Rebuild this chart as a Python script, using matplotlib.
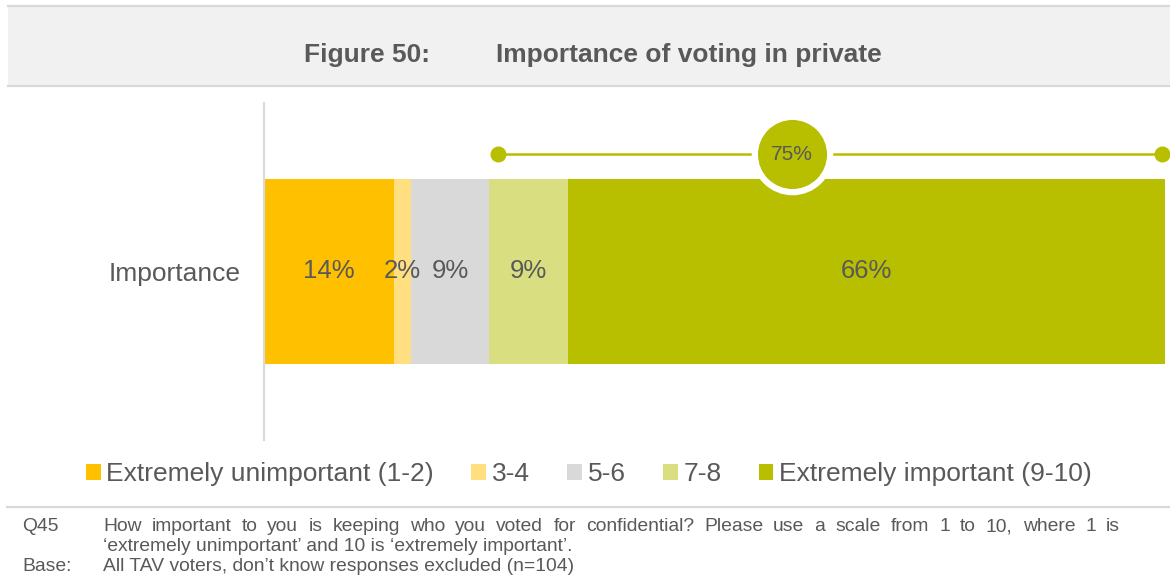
"""Stacked single bar: importance of voting in private."""

import matplotlib.pyplot as plt
from matplotlib.lines import Line2D
from matplotlib.patches import Patch, Rectangle

plt.rcParams["font.family"] = ["Liberation Sans", "DejaVu Sans"]

TEXT = "#595959"
RULE = "#D9D9D9"

# data
row_label = "Importance"
categories = ["Extremely unimportant (1-2)", "3-4", "5-6", "7-8", "Extremely important (9-10)"]
shares = [14.4, 1.9, 8.7, 8.7, 66.3]
colors = ["#FFC000", "#FFDF80", "#D9D9D9", "#D9DF80", "#B8BF00"]

title_num = "Figure 50:"
title_txt = "Importance of voting in private"
# (label, text, justified)
notes = [
    ("Q45", "How important to you is keeping who you voted for confidential? Please use a scale from 1 to 10, where 1 is", True),
    ("", "\u2018extremely unimportant\u2019 and 10 is \u2018extremely important\u2019.", False),
    ("Base:", "All TAV voters, don\u2019t know responses excluded (n=104)", False),
]

W, H = 1170, 580
fig = plt.figure(figsize=(W / 100, H / 100), dpi=100)


def fx(px):
    return px / W


def fy(py):
    return 1 - py / H


# title band
fig.patches.append(Rectangle((fx(8), fy(86)), 1 - fx(8), fy(6) - fy(86),
                             transform=fig.transFigure, facecolor="#F1F1F1", edgecolor="none"))
for yy in (6, 86):
    fig.add_artist(Line2D([fx(8), 1], [fy(yy), fy(yy)], color=RULE, linewidth=1.6))
fig.text(fx(304), fy(62), title_num, fontsize=19, fontweight="bold", color=TEXT, va="baseline")
fig.text(fx(496), fy(62), title_txt, fontsize=19, fontweight="bold", color=TEXT, va="baseline")

# bar axes
ax = fig.add_axes([fx(264), fy(440), fx(1165) - fx(264), fy(103) - fy(440)])
left = 0
for cat, val, col in zip(categories, shares, colors):
    ax.barh(0, val, left=left, height=185 / 337, color=col, edgecolor="none")
    ax.text(left + val / 2, 0, f"{round(val)}%", ha="center", va="center",
            fontsize=18.5, color=TEXT)
    left += val
ax.set_xlim(0, sum(shares))
ax.set_ylim(-0.5, 0.5)
ax.set_xticks([])
ax.set_yticks([0])
ax.set_yticklabels([row_label], fontsize=19, color=TEXT)
ax.tick_params(axis="y", length=0, pad=17)
for side in ("top", "right", "bottom"):
    ax.spines[side].set_visible(False)
ax.spines["left"].set_color(RULE)
ax.spines["left"].set_linewidth(1.6)

# bracket with bubble for the top-box total
start = sum(shares[:3])
y_br = 0.5 - (154 - 103) / 337
x0, x1 = start + 1.0, sum(shares) - 0.3
xc = start + 33.6
ax.plot([x0, x1], [y_br, y_br], color=colors[4], linewidth=1.8, clip_on=False, zorder=3)
ax.scatter([x0, x1], [y_br, y_br], s=110, color=colors[4], zorder=4, clip_on=False)
ax.scatter([xc], [y_br], s=2940, color=colors[4], edgecolors="white", linewidths=4.5,
           zorder=5, clip_on=False)
ax.text(xc, y_br, f"{round(sum(shares[3:]))}%", ha="center", va="center",
        fontsize=15, color=TEXT, zorder=6)

# legend
handles = [Patch(facecolor=c, edgecolor="none") for c in colors]
fig.legend(handles, categories, loc="center", bbox_to_anchor=(fx(589), fy(474)),
           ncol=5, frameon=False, fontsize=19, labelcolor=TEXT,
           handlelength=0.55, handleheight=0.55, handletextpad=0.22,
           columnspacing=1.42, borderaxespad=0, borderpad=0)

# footnotes
fig.add_artist(Line2D([fx(7), 1], [fy(507), fy(507)], color=RULE, linewidth=1.6))
renderer = fig.canvas.get_renderer()
note_kw = dict(fontsize=13.9, color=TEXT, va="baseline")
for i, (lab, txt, justify) in enumerate(notes):
    yy = fy(531 + 20 * i)
    if lab:
        fig.text(fx(22), yy, lab, **note_kw)
    if not justify:
        fig.text(fx(103), yy, txt, **note_kw)
        continue
    # justified line, as in the source document
    words = txt.split(" ")
    widths = []
    for w in words:
        t = fig.text(0, 0, w, **note_kw)
        widths.append(t.get_window_extent(renderer).width)
        t.remove()
    gap = (1120 - 103 - sum(widths)) / (len(words) - 1)
    xpos = 103
    for w, wd in zip(words, widths):
        fig.text(fx(xpos), yy, w, **note_kw)
        xpos += wd + gap

fig.savefig("out.png", dpi=100)
